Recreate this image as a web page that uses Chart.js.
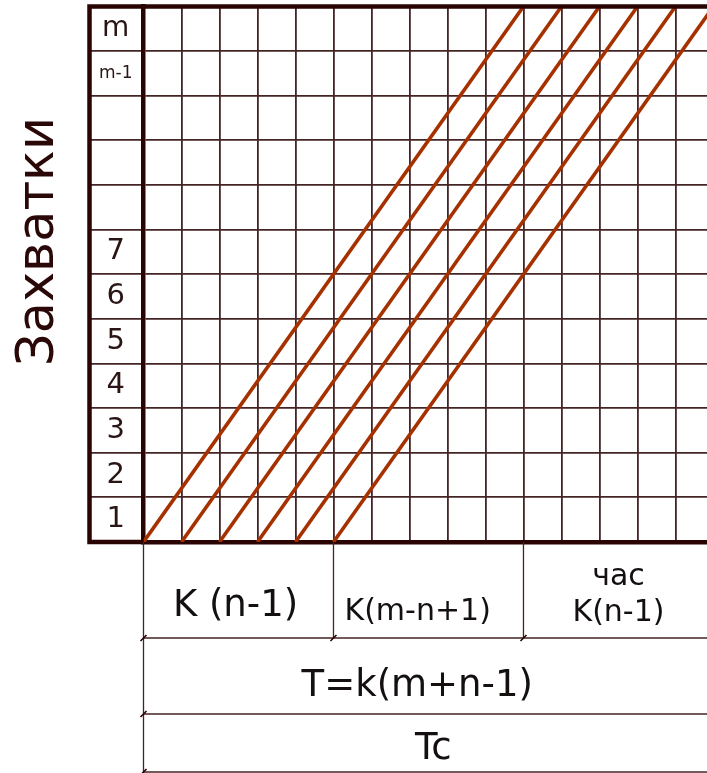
<!DOCTYPE html>
<html lang="ru">
<head>
<meta charset="utf-8">
<title>Поточный график</title>
<script src="https://cdn.jsdelivr.net/npm/chart.js@4.4.0/dist/chart.umd.min.js"></script>
<style>
  html, body { margin: 0; padding: 0; background: #fff; }
  canvas { display: block; }
</style>
</head>
<body>
<canvas id="flowChart" width="707" height="773"></canvas>
<script>
// захватки снизу вверх
const stageLabels = ["1", "2", "3", "4", "5", "6", "7", "", "", "", "m-1", "m"];
// начало и окончание работы каждой бригады, в шагах k
const crewStart = [0, 1, 2, 3, 4, 5];
const crewEnd = [10, 11, 12, 13, 14, 15];
const visibleSteps = 14.83;

// периоды под графиком
const periodFrom = [0, 5, 10];
const periodTo = [5, 10, 15];
const periodText = [["K (n-1)"], ["K(m-n+1)"], ["час", "K(n-1)"]];
const totalText = "T=k(m+n-1)";
const calendarText = "Tc";
const axisTitle = "Захватки";

const FONT = "'DejaVu Sans', Verdana, sans-serif";
const FRAME = "#2a0303";
const GRID = "#452424";
const FLOW = "#a63100";
const INK = "#141010";
const LABEL_COL = 55.5;
const OUTER_LEFT = 89.5;

function labelSize(label) {
  if (label === "m-1") return 17;
  if (label === "m") return 28;
  return 29;
}

function tickLabel(v) {
  return v % 1 ? stageLabels[Math.floor(v)] || "" : "";
}

// ширина самой широкой подписи, чтобы поставить подписи по центру колонки
const probe = document.createElement("canvas").getContext("2d");
let widest = 0;
stageLabels.forEach(l => {
  probe.font = `normal normal ${labelSize(l)}px ${FONT}`;
  widest = Math.max(widest, probe.measureText(l).width);
});

const datasets = crewStart.map((s, i) => ({
  data: [{ x: s, y: 0 }, { x: crewEnd[i], y: stageLabels.length }],
  borderColor: FLOW,
  borderWidth: 3.6,
  pointRadius: 0,
  fill: false
}));

const framePlugin = {
  id: "frame",
  afterDatasetsDraw(chart) {
    const { ctx, chartArea: a, scales: { x } } = chart;
    const W = chart.width;
    ctx.save();

    // внешняя рамка
    ctx.strokeStyle = FRAME;
    ctx.lineWidth = 4.5;
    ctx.beginPath();
    ctx.moveTo(W + 5, a.top);
    ctx.lineTo(OUTER_LEFT, a.top);
    ctx.lineTo(OUTER_LEFT, a.bottom);
    ctx.lineTo(a.left, a.bottom);
    ctx.stroke();

    // таблица периодов
    const rowY = [a.bottom, a.bottom + 96, a.bottom + 172, a.bottom + 230];
    const x0 = x.getPixelForValue(0);
    ctx.strokeStyle = GRID;
    ctx.lineWidth = 1.3;
    ctx.beginPath();
    ctx.moveTo(x0, a.bottom);
    ctx.lineTo(x0, rowY[3] + 2);
    periodFrom.slice(1).forEach(v => {
      const px = x.getPixelForValue(v);
      ctx.moveTo(px, a.bottom);
      ctx.lineTo(px, rowY[1]);
    });
    for (let r = 1; r < 4; r++) {
      ctx.moveTo(x0, rowY[r]);
      ctx.lineTo(W, rowY[r]);
    }
    ctx.stroke();

    // засечки размерных линий
    ctx.strokeStyle = FRAME;
    ctx.lineWidth = 1.6;
    ctx.beginPath();
    const marks = periodFrom.map(v => [x.getPixelForValue(v), rowY[1]])
      .concat([[x0, rowY[2]], [x0, rowY[3]]]);
    marks.forEach(([mx, my]) => {
      ctx.moveTo(mx - 3, my + 3);
      ctx.lineTo(mx + 3, my - 3);
    });
    ctx.stroke();

    ctx.fillStyle = INK;
    ctx.textBaseline = "alphabetic";
    // первая строка
    const c0 = (x.getPixelForValue(periodFrom[0]) + x.getPixelForValue(periodTo[0])) / 2;
    ctx.font = `37px ${FONT}`;
    ctx.textAlign = "center";
    ctx.fillText(periodText[0][0], c0 - 3, a.bottom + 74);

    ctx.font = `30px ${FONT}`;
    ctx.textAlign = "left";
    ctx.fillText(periodText[1][0], x.getPixelForValue(periodFrom[1]) + 11, a.bottom + 78);

    const c2 = (x.getPixelForValue(periodFrom[2]) + x.getPixelForValue(periodTo[2])) / 2;
    ctx.textAlign = "center";
    ctx.fillText(periodText[2][0], c2, a.bottom + 43);
    ctx.fillText(periodText[2][1], c2, a.bottom + 79);

    // общая продолжительность
    ctx.font = `37px ${FONT}`;
    ctx.fillText(totalText, (x0 + W) / 2 - 8, rowY[1] + 58);
    ctx.fillText(calendarText, (x0 + W) / 2 + 8, rowY[2] + 45);

    // заголовок оси
    ctx.translate(53, 241.5);
    ctx.rotate(-Math.PI / 2);
    ctx.fillStyle = "#2a0808";
    ctx.font = `51px ${FONT}`;
    ctx.fillText(axisTitle, 0, 0);
    ctx.restore();
  }
};

new Chart(document.getElementById("flowChart"), {
  type: "line",
  data: { datasets },
  options: {
    responsive: false,
    animation: false,
    layout: { padding: { left: OUTER_LEFT - 1.5, top: 6.5, right: 0, bottom: 231 } },
    plugins: { legend: { display: false }, tooltip: { enabled: false } },
    scales: {
      x: {
        type: "linear",
        min: 0,
        max: visibleSteps,
        afterBuildTicks: scale => {
          const t = [];
          for (let v = 0; v <= visibleSteps; v += 1) t.push({ value: v });
          scale.ticks = t;
        },
        ticks: { display: false, autoSkip: false },
        grid: { color: GRID, lineWidth: 1.8, drawTicks: false },
        border: { color: FRAME, width: 4.5 }
      },
      y: {
        type: "linear",
        min: 0,
        max: stageLabels.length,
        afterBuildTicks: scale => {
          const t = [];
          for (let v = 0; v <= stageLabels.length; v += 0.5) t.push({ value: v });
          scale.ticks = t;
        },
        afterFit: scale => { scale.width = LABEL_COL; },
        grid: {
          color: c => (c.tick && c.tick.value % 1 === 0 ? GRID : "transparent"),
          lineWidth: 1.8,
          tickLength: LABEL_COL
        },
        border: { color: FRAME, width: 4.5 },
        ticks: {
          autoSkip: false,
          crossAlign: "center",
          padding: -(LABEL_COL + widest) / 2,
          color: "#2a1414",
          font: c => ({ family: FONT, size: labelSize(c.tick ? tickLabel(c.tick.value) : "") }),
          callback: v => tickLabel(v)
        }
      }
    }
  },
  plugins: [framePlugin]
});
</script>
</body>
</html>
